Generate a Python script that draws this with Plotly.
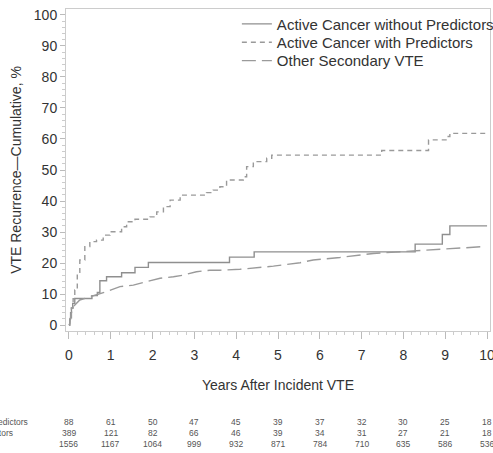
import plotly.graph_objects as go

# Active Cancer without Predictors (solid, step)
no_pred_x = [0, 0.02, 0.04, 0.06, 0.09, 0.14, 0.55, 0.68, 0.74, 0.9, 1.26, 1.58, 1.9, 3.84, 4.43, 8.28, 8.93, 9.11, 10.0]
no_pred_y = [0, 2.0, 4.0, 5.5, 7.0, 8.6, 9.5, 10.5, 14.3, 15.6, 16.9, 18.6, 20.2, 21.9, 23.6, 26.1, 29.2, 32.0, 32.0]

# Active Cancer with Predictors (short dash)
pred_x = [0, 0.02, 0.06, 0.1, 0.14, 0.2, 0.26, 0.38, 0.5, 0.66, 0.82, 0.98, 1.18, 1.26, 1.38, 1.58, 1.94, 2.1, 2.26, 2.42,
          2.66, 3.13, 3.29, 3.45, 3.61, 3.77, 3.93, 4.17, 4.25, 4.41, 4.73, 4.85, 7.44, 7.48, 8.56, 8.6, 9.07, 9.11, 10.0]
pred_y = [0, 1.6, 5.5, 8.5, 11.3, 17.0, 21.0, 25.3, 26.9, 27.4, 29.0, 30.1, 30.1, 31.7, 33.3, 34.1, 34.9, 36.5, 38.2, 40.3,
          41.9, 41.9, 42.7, 43.5, 44.6, 46.8, 46.8, 47.8, 51.1, 52.7, 53.8, 54.8, 54.8, 56.3, 56.3, 59.7, 60.8, 61.8, 61.8]

# Other Secondary VTE (long dash)
other_x = [0, 0.02, 0.05, 0.1, 0.26, 0.5, 0.66, 0.9, 1.22, 1.54, 1.86, 2.18, 2.5, 2.73, 3.05, 3.37, 3.61, 4.09, 4.89,
           5.53, 5.84, 6.48, 7.28, 7.92, 8.24, 8.88, 9.91]
other_y = [0, 0.5, 3.5, 5.9, 8.1, 9.1, 9.7, 10.8, 12.4, 12.9, 14.0, 15.1, 15.6, 16.1, 17.2, 17.7, 17.7, 18.0, 19.0,
           20.1, 21.0, 21.8, 23.1, 23.6, 24.0, 24.4, 25.3]

# Numbers at risk
risk_years = [0, 1, 2, 3, 4, 5, 6, 7, 8, 9, 10]
risk_labels = ["Active Cancer without Predictors", "Active Cancer with Predictors", "Other Secondary VTE"]
risk_no_pred = [88, 61, 50, 47, 45, 39, 37, 32, 30, 25, 18]
risk_pred = [389, 121, 82, 66, 46, 39, 34, 31, 27, 21, 18]
risk_other = [1556, 1167, 1064, 999, 932, 871, 784, 710, 635, 586, 536]

FONT = "Liberation Sans, Arial, sans-serif"
GREY = "#9a9a9a"

fig = go.Figure()
fig.add_trace(go.Scatter(x=no_pred_x, y=no_pred_y, mode="lines", line_shape="hv",
                         name="Active Cancer without Predictors", legend="legend",
                         line=dict(color="#8f8f8f", width=1.4, dash="solid")))
fig.add_trace(go.Scatter(x=pred_x, y=pred_y, mode="lines", line_shape="hv",
                         name="Active Cancer with Predictors", legend="legend2",
                         line=dict(color=GREY, width=1.4, dash="5px,4px")))
fig.add_trace(go.Scatter(x=other_x, y=other_y, mode="lines",
                         name="Other Secondary VTE", legend="legend3",
                         line=dict(color=GREY, width=1.4, dash="14px,6px")))

annotations = []
rows = [risk_no_pred, risk_pred, risk_other]
row_y = [-0.283, -0.317, -0.351]
label_shift = [-36, -51, -92]
for r, vals in enumerate(rows):
    for xv, v in zip(risk_years, vals):
        annotations.append(dict(x=xv, y=row_y[r], xref="x", yref="paper", text=str(v), showarrow=False,
                                xanchor="center", yanchor="middle",
                                font=dict(family=FONT, size=8.5, color="#555555")))
    annotations.append(dict(x=0, y=row_y[r], xref="paper", yref="paper", text=risk_labels[r], showarrow=False,
                            xanchor="right", yanchor="middle", xshift=label_shift[r],
                            font=dict(family=FONT, size=8.5, color="#555555")))

legend_style = dict(x=0.403, xanchor="left", yanchor="middle", bgcolor="rgba(0,0,0,0)",
                    font=dict(family=FONT, size=15, color="#333333"))

fig.update_layout(
    width=493, height=453,
    margin=dict(l=66, r=3, t=9, b=122, autoexpand=False),
    paper_bgcolor="white", plot_bgcolor="white",
    font=dict(family=FONT, size=14, color="#333333"),
    showlegend=True,
    legend=dict(y=0.953, **legend_style),
    legend2=dict(y=0.896, **legend_style),
    legend3=dict(y=0.839, **legend_style),
    annotations=annotations,
)
fig.update_xaxes(range=[-0.07, 10.07], tickvals=risk_years, ticks="outside", ticklen=7, tickcolor="#bbbbbb",
                 showline=True, linecolor="#cccccc", mirror=True, showgrid=False, zeroline=False,
                 minor=dict(dtick=0.2, ticks="outside", ticklen=3, tickcolor="#cccccc"),
                 ticklabelstandoff=4, ticklabeloverflow="allow",
                 title=dict(text="Years After Incident VTE", font=dict(size=14), standoff=18),
                 tickfont=dict(size=14))
fig.update_yaxes(range=[-1.9, 101.9], tickvals=list(range(0, 101, 10)), ticks="outside", ticklen=5, tickcolor="#bbbbbb",
                 showline=True, linecolor="#cccccc", mirror=True, showgrid=False, zeroline=False,
                 minor=dict(dtick=2, ticks="outside", ticklen=3, tickcolor="#cccccc"),
                 title=dict(text="VTE Recurrence—Cumulative, %", font=dict(size=14), standoff=8),
                 tickfont=dict(size=14))

fig.write_html("out.html", config={"displayModeBar": False},
               post_script="document.body.style.margin='0';document.body.style.overflow='hidden';")
